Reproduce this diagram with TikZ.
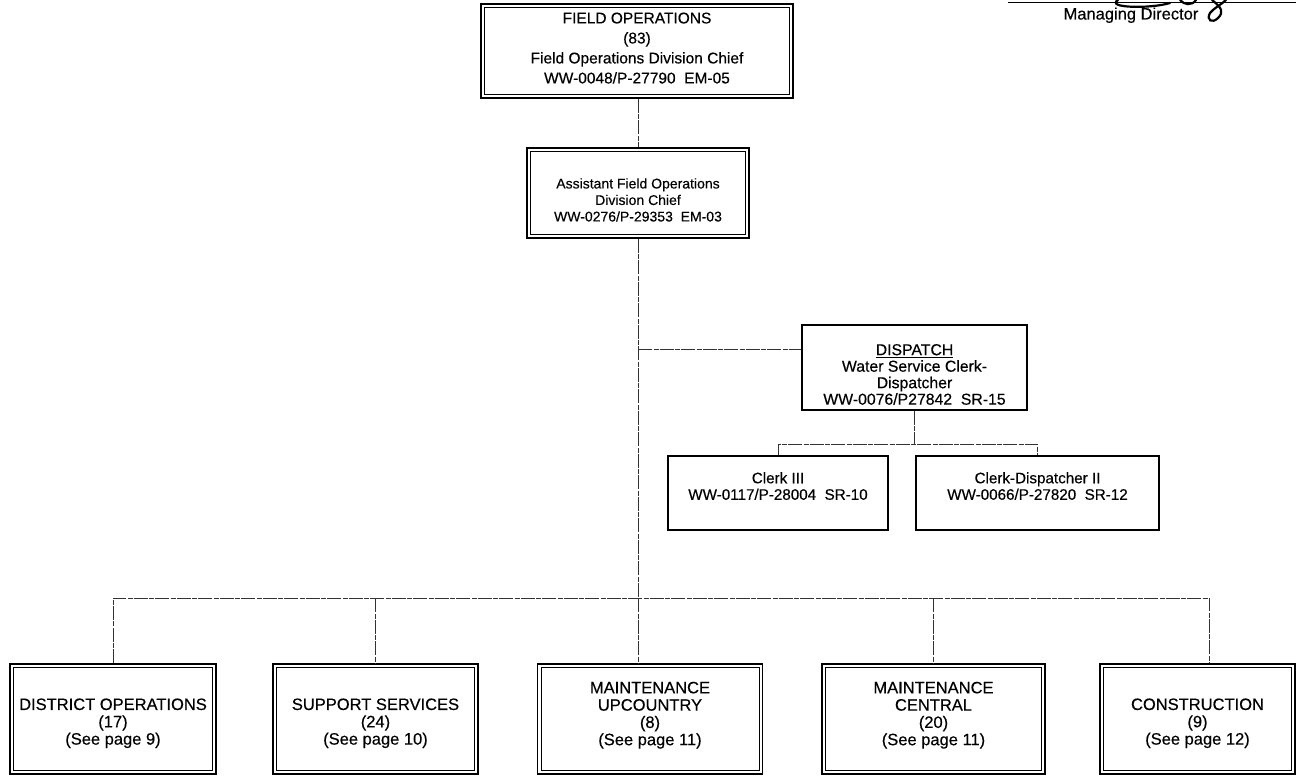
\documentclass[tikz,border=0pt]{standalone}
\usepackage{fontspec}
\setmainfont{Liberation Sans}[FakeBold=0.35]
% vertical padding struts used to move a text block inside its box
\newcommand\toppad[1]{\rule{0pt}{#1}}
\newcommand\botpad[1]{\rule[-#1]{0pt}{0pt}}
\begin{document}
\begin{tikzpicture}[x=1pt,y=-1pt,
  conn/.style={line width=0.8pt, draw=black!80, dash pattern=on 14pt off 1.5pt on 5pt off 1pt},
  sbox/.style={draw, line width=1.4pt, inner sep=0pt, align=center},
  dbox/.style={draw, line width=1.8pt, inner sep=0pt, align=center,
    path picture={\draw[line width=0.8pt]
      ([shift={(3.5,3.5)}]path picture bounding box.north west) rectangle
      ([shift={(-3.5,-3.5)}]path picture bounding box.south east);}},
  ftop/.style={font=\fontsize{15.5}{20}\selectfont},
  fasst/.style={font=\fontsize{14}{16.5}\selectfont},
  fdisp/.style={font=\fontsize{15.8}{16.5}\selectfont},
  fclerk/.style={font=\fontsize{15.2}{16.5}\selectfont},
  fbot/.style={font=\fontsize{16.5}{17.3}\selectfont}]
\useasboundingbox (0,0) rectangle (1296,776);

% signature block
\coordinate (sigL) at (1008,3);
\coordinate (sigR) at (1296,3);
\draw[line width=1pt] (sigL) -- (sigR);
\node[font=\fontsize{16.5}{18}\selectfont, anchor=north] (md) at (1131,4) {Managing Director};
\draw[line width=2.2pt, line cap=round]
  (1118,0) .. controls (1105,8) and (1150,9) .. (1170,3)
  (1180,0) .. controls (1184,5) and (1192,6) .. (1196,0)
  (1212,0) .. controls (1222,8) and (1224,12) .. (1218,18)
  .. controls (1212,24) and (1206,20) .. (1210,13)
  .. controls (1214,8) and (1222,4) .. (1226,0);

% top levels
\node[dbox, ftop, minimum width=312pt, minimum height=94pt] (fo) at (637,51)
  {FIELD OPERATIONS\\(83)\\Field Operations Division Chief\\WW-0048/P-27790\ \ EM-05\botpad{6pt}};
\node[dbox, fasst, minimum width=222pt, minimum height=90pt] (afo) at (638,193)
  {\toppad{24pt}Assistant Field Operations\\Division Chief\\WW-0276/P-29353\ \ EM-03};
\node[sbox, fdisp, minimum width=225pt, minimum height=85pt] (disp) at (914.5,367.5)
  {\toppad{25pt}\underline{DISPATCH}\\Water Service Clerk-\\Dispatcher\\WW-0076/P27842\ \ SR-15};
\node[sbox, fclerk, minimum width=220pt, minimum height=74pt] (c3) at (778,493)
  {Clerk III\\WW-0117/P-28004\ \ SR-10\botpad{14pt}};
\node[sbox, fclerk, minimum width=243pt, minimum height=74pt] (cd2) at (1037.5,493)
  {Clerk-Dispatcher II\\WW-0066/P-27820\ \ SR-12\botpad{14pt}};

% bottom row
\node[dbox, fbot, minimum width=206pt, minimum height=110pt] (dist) at (113,719)
  {\toppad{20pt}DISTRICT OPERATIONS\\(17)\\(See page 9)};
\node[dbox, fbot, minimum width=205pt, minimum height=110pt] (supp) at (375.5,719)
  {\toppad{20pt}SUPPORT SERVICES\\(24)\\(See page 10)};
\node[dbox, fbot, minimum width=225pt, minimum height=110pt] (mup) at (650,719)
  {MAINTENANCE\\UPCOUNTRY\\(8)\\(See page 11)\botpad{11pt}};
\node[dbox, fbot, minimum width=223pt, minimum height=110pt] (mcen) at (933.5,719)
  {MAINTENANCE\\CENTRAL\\(20)\\(See page 11)\botpad{11pt}};
\node[dbox, fbot, minimum width=195pt, minimum height=110pt] (cons) at (1197.5,719)
  {\toppad{20pt}CONSTRUCTION\\(9)\\(See page 12)};

% connectors
\coordinate (bus) at (638,598);
\coordinate (dj) at (638,349);
\coordinate (cb) at (914.5,444);
\coordinate (consdrop) at ([xshift=12]cons.north);
\draw[conn] (fo.south -| afo.north) -- (afo.north);
\draw[conn] (afo.south) -- (bus);
\draw[conn] (dj) -- (disp.west |- dj);
\draw[conn] (disp.south) -- (cb);
\draw[conn] (c3.north) -- (c3.north |- cb) -- (cd2.north |- cb) -- (cd2.north);
\draw[conn] (dist.north) -- (dist.north |- bus) -- (consdrop |- bus) -- (consdrop);
\draw[conn] (supp.north |- bus) -- (supp.north);
\draw[conn] (bus) -- (mup.north -| bus);
\draw[conn] (mcen.north |- bus) -- (mcen.north);
\end{tikzpicture}
\end{document}
